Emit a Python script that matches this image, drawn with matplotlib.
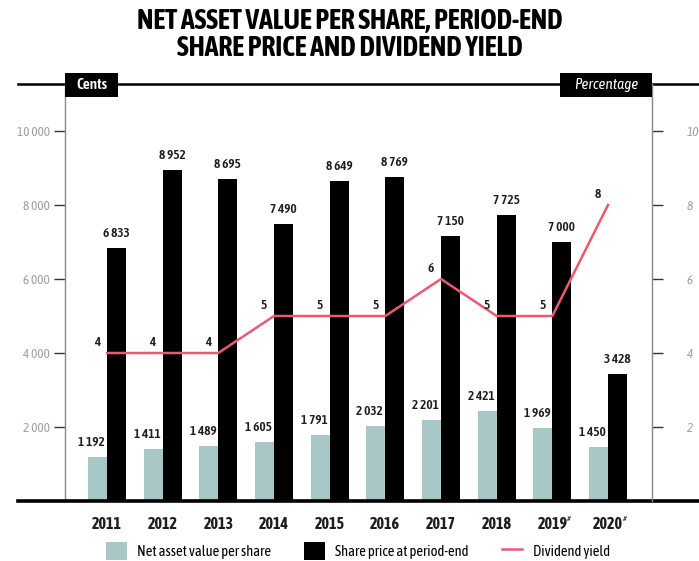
import matplotlib
matplotlib.use("Agg")
import matplotlib.pyplot as plt
from matplotlib import font_manager
import numpy as np
from matplotlib.patches import Patch, Rectangle
from matplotlib.lines import Line2D

# datos
anios = ["2011", "2012", "2013", "2014", "2015", "2016", "2017", "2018", "2019", "2020"]
nota_anio = [False, False, False, False, False, False, False, False, True, True]
valor_activo = [1192, 1411, 1489, 1605, 1791, 2032, 2201, 2421, 1969, 1450]
precio_accion = [6833, 8952, 8695, 7490, 8649, 8769, 7150, 7725, 7000, 3428]
rendimiento = [4, 4, 4, 5, 5, 5, 6, 5, 5, 8]
ticks_izq = [2000, 4000, 6000, 8000, 10000]

# busca una fuente estrecha que tenga negrita
fuentes = font_manager.fontManager.ttflist
estrechas = sorted({f.name for f in fuentes if ("Condensed" in f.name or "Narrow" in f.name)})
con_negrita = [n for n in estrechas
               if any(f.name == n and (f.weight in ("bold", 700) or str(f.weight) == "700") for f in fuentes)]
FAM = (con_negrita[:1] or estrechas[:1]) + ["Roboto", "DejaVu Sans"]

C_NAV = "#a8c8c8"
C_LINEA = "#ec5a72"
C_GRIS = "#a0a0a0"
C_TXT = "#1e1e1e"

plt.rcParams["font.family"] = FAM

W, H = 699, 561
fig = plt.figure(figsize=(W / 100, H / 100), dpi=100)
ax = fig.add_axes([65 / W, 60 / H, 587 / W, 417 / H])

x = np.arange(len(anios))
ancho = 0.34

ax.bar(x - ancho / 2, valor_activo, width=ancho, color=C_NAV)
ax.bar(x + ancho / 2, precio_accion, width=ancho, color="black")

ax.set_xlim(-0.754, 9.79)
ax.set_ylim(0, 11270)

# etiquetas de valores
for i in range(len(anios)):
    ax.annotate(f"{valor_activo[i]:,}".replace(",", " "), (x[i] - ancho / 2, valor_activo[i]),
                xytext=(-6, 8), textcoords="offset pixels", ha="center", va="bottom",
                fontsize=9.5, color=C_TXT, fontweight="semibold")
    ax.annotate(f"{precio_accion[i]:,}".replace(",", " "), (x[i] + ancho / 2, precio_accion[i]),
                xytext=(0, 8), textcoords="offset pixels", ha="center", va="bottom",
                fontsize=9.5, color=C_TXT, fontweight="semibold")

# eje derecho para el rendimiento
ax2 = ax.twinx()
ax2.set_ylim(0, 11.27)
ax2.plot(x, rendimiento, color=C_LINEA, lw=1.8)
for i in range(len(anios)):
    ax2.annotate(str(rendimiento[i]), (x[i], rendimiento[i]), xytext=(-10, 10),
                 textcoords="offset pixels", ha="center", va="center",
                 fontsize=9.5, color=C_TXT, fontweight="semibold")

# ejes y marcas
for a in (ax, ax2):
    for s in a.spines.values():
        s.set_visible(False)

ax.spines["left"].set_visible(True)
ax.spines["left"].set_color("#888888")
ax.spines["left"].set_linewidth(1.0)
ax2.spines["right"].set_visible(True)
ax2.spines["right"].set_color("#888888")
ax2.spines["right"].set_linewidth(1.0)

ax.set_yticks(ticks_izq)
ax.set_yticklabels([f"{t:,}".replace(",", " ") for t in ticks_izq], color=C_GRIS, fontsize=9.5)
ax.tick_params(axis="y", length=8, width=1, color="#333333", pad=3)

ax2.set_yticks([t / 1000 for t in ticks_izq])
ax2.set_yticklabels([str(t // 1000) for t in ticks_izq], color=C_GRIS, fontsize=9.5, style="italic")
ax2.tick_params(axis="y", length=8, width=1, color="#333333", pad=17)

ax.set_xticks(x)
ax.set_xticklabels(anios, fontsize=11.5, fontweight="bold", color=C_TXT)
ax.tick_params(axis="x", length=0, pad=11)
for i in range(len(anios)):
    if nota_anio[i]:
        ax.annotate("#", (x[i], 0), xytext=(15, -18), textcoords="offset pixels",
                    fontsize=6, style="italic", color=C_TXT, ha="left", va="center",
                    annotation_clip=False)

# lineas horizontales superior e inferior
ax.plot([-0.08, 1.08], [1, 1], transform=ax.transAxes, color="black", lw=1.8, clip_on=False, zorder=1)
ax.plot([-0.08, 1.08], [0, 0], transform=ax.transAxes, color="black", lw=2.6, clip_on=False, zorder=5)

# cajas de encabezado
fig.add_artist(Rectangle((65 / W, 1 - 97 / H), 53 / W, 24 / H, transform=fig.transFigure,
                         fc="black", ec="none", zorder=6))
fig.text(91.5 / W, 1 - 85 / H, "Cents", ha="center", va="center", fontsize=11,
         color="white", fontweight="semibold", zorder=7)
fig.add_artist(Rectangle((560 / W, 1 - 97 / H), 92 / W, 24 / H, transform=fig.transFigure,
                         fc="black", ec="none", zorder=6))
fig.text(606 / W, 1 - 85 / H, "Percentage", ha="center", va="center", fontsize=11,
         style="italic", color="white", zorder=7)

fig.text(0.5, 1 - 35 / H, "NET ASSET VALUE PER SHARE, PERIOD-END\nSHARE PRICE AND DIVIDEND YIELD",
         ha="center", va="center", fontsize=20, fontweight="bold", linespacing=1.02)

# leyenda
manejadores = [Patch(facecolor=C_NAV), Patch(facecolor="black"), Line2D([], [], color=C_LINEA, lw=1.8)]
fig.legend(manejadores, ["Net asset value per share", "Share price at period-end", "Dividend yield"],
           loc="center", bbox_to_anchor=(0.512, 0.018), ncol=3, frameon=False, fontsize=10.5,
           handlelength=1.4, handleheight=1.6, columnspacing=2.3, handletextpad=0.7)

fig.savefig("out.png", dpi=100)
